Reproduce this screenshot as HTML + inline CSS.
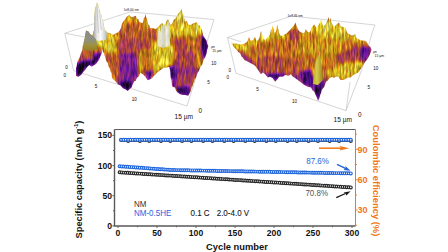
<!DOCTYPE html>
<html><head><meta charset="utf-8"><style>
html,body{margin:0;padding:0;background:#fff;}
body{width:448px;height:252px;overflow:hidden;}
svg{display:block;}
text{font-family:"Liberation Sans",sans-serif;}
</style></head><body>
<svg width="448" height="252" viewBox="0 0 448 252">
<rect width="448" height="252" fill="#fff"/>
<defs><clipPath id="cl"><path d="M76.0 76.0 L76.0 73.9 L76.0 70.2 L76.0 68.0 L76.6 66.5 L77.1 63.0 L77.7 61.3 L79.3 58.0 L80.1 56.2 L81.0 52.8 L81.8 51.3 L82.3 50.2 L82.8 45.5 L83.3 45.4 L83.8 41.4 L84.3 39.7 L84.7 38.3 L85.2 34.5 L85.6 33.3 L86.0 30.5 L88.5 31.5 L90.2 34.0 L92.0 35.5 L93.0 33.3 L94.0 30.0 L94.0 28.1 L94.1 23.8 L94.2 22.2 L94.2 17.1 L94.3 15.5 L94.5 14.2 L94.7 10.1 L94.9 8.3 L96.0 6.0 L97.0 2.4 L97.9 3.6 L98.8 7.5 L99.7 9.5 L100.6 13.6 L101.5 15.5 L102.1 19.0 L102.7 19.0 L103.3 22.6 L103.7 25.5 L104.1 26.6 L104.5 30.0 L106.0 31.0 L108.0 33.0 L110.0 33.0 L113.3 35.0 L116.0 33.0 L118.0 32.4 L120.0 30.0 L121.0 27.9 L122.0 23.8 L123.0 22.0 L124.8 19.8 L126.7 16.7 L129.2 15.0 L131.2 17.1 L133.3 16.7 L135.8 15.8 L136.9 18.9 L138.1 18.8 L139.2 21.7 L142.5 23.3 L143.2 21.6 L144.0 17.4 L144.8 17.2 L145.5 14.0 L146.2 17.8 L146.8 18.0 L147.5 21.7 L148.3 24.7 L149.2 25.1 L150.0 28.0 L153.0 28.3 L156.0 29.0 L159.0 26.0 L162.0 23.0 L164.0 25.0 L165.4 24.0 L166.8 20.4 L168.2 19.2 L169.4 22.6 L170.7 25.0 L172.1 23.7 L173.6 19.9 L175.0 19.0 L176.5 16.9 L178.0 14.0 L179.8 12.0 L181.5 9.2 L182.5 13.1 L183.5 15.0 L183.9 17.9 L184.4 18.6 L184.8 21.7 L186.7 20.7 L187.8 23.7 L189.0 25.0 L191.2 24.8 L193.3 23.2 L196.7 22.3 L198.3 25.3 L200.0 25.7 L200.8 28.5 L201.7 29.3 L202.5 32.3 L203.3 35.4 L204.2 37.3 L206.7 40.7 L207.5 44.2 L208.3 45.7 L207.7 48.7 L207.2 49.6 L206.6 53.7 L206.0 55.0 L205.0 58.0 L204.0 58.8 L203.0 62.0 L202.0 65.3 L201.0 65.7 L200.0 68.3 L198.9 71.0 L197.8 72.2 L196.7 75.0 L195.8 78.2 L195.0 78.2 L194.2 81.8 L193.3 83.3 L192.5 86.3 L191.7 87.3 L190.8 91.0 L190.0 92.5 L188.3 95.8 L185.0 95.0 L182.5 95.0 L180.0 94.2 L177.5 92.5 L176.2 91.0 L175.0 87.5 L172.5 86.7 L171.9 85.1 L171.4 79.8 L170.8 78.3 L170.5 76.6 L170.3 71.5 L170.0 70.0 L169.2 66.7 L166.7 67.5 L163.7 67.7 L160.3 70.2 L157.0 72.7 L155.3 74.8 L153.7 76.0 L152.0 78.3 L150.3 79.3 L147.8 80.2 L145.3 76.8 L142.8 74.3 L140.3 72.7 L138.7 76.5 L137.0 77.7 L135.6 81.0 L134.2 81.3 L132.8 84.3 L131.6 87.6 L130.3 88.5 L127.8 91.0 L125.3 89.3 L122.8 88.2 L120.3 85.2 L117.8 84.2 L115.3 81.0 L113.7 80.0 L112.0 77.7 L111.8 76.1 L111.7 73.3 L110.7 71.8 L109.7 68.1 L108.7 67.1 L107.7 62.8 L106.7 61.7 L106.0 60.3 L105.3 57.1 L104.6 55.8 L103.9 52.7 L103.2 52.2 L102.5 49.0 L101.8 53.3 L100.2 56.7 L99.0 59.9 L97.7 61.7 L96.0 64.0 L94.3 65.0 L91.8 66.7 L89.3 65.0 L86.8 67.5 L85.2 70.1 L83.5 71.7 L81.0 75.0 L78.5 76.8Z"/></clipPath><filter id="fl" filterUnits="userSpaceOnUse" x="60" y="0" width="156" height="100" color-interpolation-filters="sRGB"><feGaussianBlur in="SourceGraphic" stdDeviation="1.6" result="h"/><feTurbulence type="fractalNoise" baseFrequency="0.45 0.09" numOctaves="2" seed="4" result="n"/><feColorMatrix in="n" type="matrix" values="1 0 0 0 0 1 0 0 0 0 1 0 0 0 0 0 0 0 0 1" result="ng"/><feComposite in="h" in2="ng" operator="arithmetic" k1="0" k2="1" k3="0.42" k4="-0.21" result="hn"/><feComponentTransfer in="hn" result="c"><feFuncR type="table" tableValues="0.031 0.137 0.255 0.392 0.549 0.647 0.737 0.769 0.816 0.886 0.980"/><feFuncG type="table" tableValues="0.016 0.031 0.047 0.086 0.157 0.243 0.384 0.557 0.729 0.867 0.980"/><feFuncB type="table" tableValues="0.047 0.235 0.451 0.588 0.510 0.275 0.110 0.094 0.118 0.392 0.961"/></feComponentTransfer><feTurbulence type="fractalNoise" baseFrequency="0.6 0.12" numOctaves="2" seed="7" result="n2"/><feColorMatrix in="n2" type="matrix" values="1 0 0 0 0 1 0 0 0 0 1 0 0 0 0 0 0 0 0 1" result="ng2"/><feComposite in="c" in2="ng2" operator="arithmetic" k1="0.9" k2="0.5700000000000001" k3="0" k4="0"/></filter></defs><g stroke="#b8b8b8" stroke-width="0.6" fill="none"><path d="M64.8 33.3 L130 11.9 L214 19.5"/><path d="M64.8 33.3 L85 37"/><path d="M64.8 33.3 L73.6 70.6 L187 106 L214 19.5"/></g><g font-size="4.6" fill="#111" font-family="Liberation Sans, sans-serif"><text x="65.3" y="69.2">0</text><text x="63.6" y="77">0</text><text x="94.8" y="87.6">5</text><text x="131.8" y="101.2">10</text><text x="174.6" y="118.5" font-size="6.6">15 µm</text><text x="198.6" y="113.1" font-size="6.4">0</text><text x="207.2" y="83.6">5</text><text x="211.3" y="64.5">10</text><text x="212.2" y="51.5" font-size="3.4">15 µm</text><text x="211" y="47.8" font-size="2.8">µm</text><text x="123.8" y="11.4" font-size="3.2">1e8.00 nm</text></g><g clip-path="url(#cl)"><g filter="url(#fl)"><rect x="60" y="0" width="156" height="100" fill="#999999"/><path d="M92.0 38.0 L92.5 24.0 L93.5 14.0 L95.0 5.0 L96.9 0.5 L98.5 2.5 L100.5 9.0 L102.0 14.5 L104.2 22.0 L106.0 29.0 L108.0 33.0 L107.0 40.0 L98.0 41.0 L94.0 40.0Z" fill="#f7f7f7"/><path d="M83.0 42.0 L85.0 30.0 L87.0 29.0 L93.0 35.0 L97.0 40.0 L97.0 50.0 L83.0 50.0Z" fill="#adadad"/><path d="M116.0 33.0 L120.0 30.0 L123.0 22.0 L126.7 16.7 L129.2 15.0 L133.3 16.7 L135.8 15.8 L139.2 21.7 L142.5 23.3 L145.5 14.0 L147.5 21.7 L150.0 28.0 L153.0 28.3 L156.0 29.0 L150.0 29.0 L140.0 24.0 L128.0 21.0 L118.0 32.0Z" fill="#b2b2b2"/><path d="M118.0 34.0 L150.0 30.0 L156.0 33.0 L156.0 42.0 L118.0 42.0Z" fill="#8f8f8f"/><path d="M78.0 60.0 L80.0 49.0 L96.0 48.0 L101.0 51.0 L98.0 58.0 L86.0 61.0Z" fill="#8f8f8f"/><path d="M76.0 76.0 L77.0 63.0 L84.0 61.0 L96.0 59.0 L100.0 56.0 L94.0 65.0 L86.0 68.0 L81.0 75.0Z" fill="#212121"/><path d="M76.0 76.0 L76.0 65.0 L82.0 63.0 L88.0 64.0 L86.0 68.0 L83.5 71.7 L81.0 75.0Z" fill="#0a0a0a"/><path d="M94.0 53.0 L101.0 52.0 L102.0 56.0 L97.0 61.0 L93.0 58.0Z" fill="#333333"/><path d="M95.0 33.0 L107.0 31.0 L112.0 35.0 L113.0 44.0 L104.0 48.0 L97.0 45.0Z" fill="#e0e0e0"/><path d="M103.0 32.0 L112.0 33.0 L118.0 38.0 L117.0 50.0 L112.0 58.0 L104.0 48.0Z" fill="#cccccc"/><path d="M116.0 40.0 L150.0 40.0 L148.0 52.0 L118.0 52.0Z" fill="#808080"/><path d="M119.0 54.0 L136.0 52.0 L139.0 57.0 L138.0 75.0 L132.8 84.3 L130.3 88.5 L127.8 91.0 L125.3 89.3 L120.3 85.2 L119.0 70.0Z" fill="#575757"/><path d="M108.0 52.0 L116.0 52.0 L118.0 70.0 L119.0 84.0 L115.3 81.0 L112.0 77.7 L111.7 73.3 L108.0 62.0Z" fill="#949494"/><path d="M119.0 84.0 L124.0 81.0 L130.0 83.0 L134.0 81.0 L132.8 84.3 L130.3 88.5 L127.8 91.0 L125.3 89.3 L120.3 85.2Z" fill="#121212"/><path d="M139.0 50.0 L152.0 47.0 L153.0 74.0 L147.0 79.0 L142.0 74.0Z" fill="#9e9e9e"/><path d="M137.5 52.0 L141.0 52.0 L141.5 70.0 L138.5 72.0Z" fill="#cccccc"/><path d="M145.0 72.0 L153.0 70.0 L150.3 79.3 L147.8 80.2Z" fill="#383838"/><path d="M159.0 27.0 L162.0 23.0 L164.0 25.0 L168.2 19.2 L170.0 28.0 L170.0 46.0 L161.0 46.0 L158.0 36.0Z" fill="#ededed"/><path d="M153.0 38.0 L160.0 44.0 L172.0 46.0 L178.0 54.0 L176.0 66.0 L170.0 69.0 L166.7 67.5 L160.0 70.0 L154.0 71.0 L152.0 58.0Z" fill="#cccccc"/><path d="M166.0 70.0 L170.0 66.0 L174.0 70.0 L174.0 80.0 L170.8 78.3Z" fill="#383838"/><path d="M170.7 25.0 L175.0 19.0 L178.0 14.0 L181.5 9.2 L183.5 15.0 L184.8 21.7 L186.7 20.7 L189.0 25.0 L193.3 23.2 L196.7 22.3 L200.0 25.7 L202.5 32.3 L200.0 36.0 L185.0 36.0 L172.0 36.0Z" fill="#cccccc"/><path d="M179.5 16.0 L181.5 9.2 L183.5 15.0 L182.5 20.0 L180.0 20.0Z" fill="#f2f2f2"/><path d="M174.0 36.0 L200.0 36.0 L203.0 45.0 L190.0 52.0 L176.0 50.0Z" fill="#9e9e9e"/><path d="M176.0 56.0 L192.0 50.0 L202.0 58.0 L200.0 68.3 L196.7 75.0 L193.3 83.3 L190.0 92.5 L188.3 95.8 L185.0 95.0 L180.0 94.2 L177.5 92.5 L175.0 87.5 L172.5 86.7 L172.0 68.0Z" fill="#787878"/><path d="M196.0 50.0 L200.0 50.0 L200.0 68.0 L197.0 70.0Z" fill="#c7c7c7"/><path d="M173.0 40.0 L186.0 40.0 L186.0 55.0 L175.0 56.0Z" fill="#808080"/><path d="M171.0 66.0 L175.0 66.0 L176.0 86.0 L172.5 86.7Z" fill="#1f1f1f"/><path d="M201.0 35.0 L204.2 37.3 L206.7 40.7 L208.3 45.7 L206.0 55.0 L203.0 60.0 L201.0 50.0Z" fill="#1f1f1f"/><path d="M176.0 88.0 L188.0 86.0 L190.0 92.5 L188.3 95.8 L185.0 95.0 L180.0 94.2 L177.5 92.5Z" fill="#262626"/></g><defs><filter id="fls" x="-20%" y="-20%" width="140%" height="140%"><feGaussianBlur stdDeviation="0.55"/></filter></defs><g filter="url(#fls)"><defs><linearGradient id="wpk" x1="0" x2="1" y1="0" y2="0"><stop offset="0" stop-color="#9c9c9c"/><stop offset="0.3" stop-color="#e8e8e8"/><stop offset="0.55" stop-color="#fbfbfb"/><stop offset="0.8" stop-color="#d8d8d8"/><stop offset="1" stop-color="#b8b8b0"/></linearGradient><linearGradient id="gpk" x1="0" x2="0" y1="0" y2="1"><stop offset="0" stop-color="#8a8a8a"/><stop offset="0.5" stop-color="#909080"/><stop offset="0.75" stop-color="#a09038"/><stop offset="1" stop-color="#9a7a28"/></linearGradient></defs><path d="M93 37 L93.4 24 L94.2 14 L95.4 6 L96.9 1.6 L97.6 2.6 L98.2 6.5 L99.6 9 L101.2 14.5 L103.4 22 L105 29 L107 33 L106 40 L98 41 L95 39 Z" fill="url(#wpk)"/><path d="M96.9 3 L97.4 14 L98.4 33 M99.6 10 L101.2 30" stroke="#b8b8b8" stroke-width="0.7" fill="none"/><defs><linearGradient id="wpt" x1="0" x2="1" y1="0" y2="0"><stop offset="0" stop-color="#d8d8d0"/><stop offset="0.25" stop-color="#f4f4f0"/><stop offset="0.45" stop-color="#c0c4cc"/><stop offset="0.7" stop-color="#f0f0ee"/><stop offset="1" stop-color="#c8c8c0"/></linearGradient></defs><path d="M157 46 L157.5 34 L159 28 L160.5 33 L162 25 L163.5 30 L165 22 L166.5 27 L168 19 L169.5 25 L170.5 35 L169 46 L163 48 Z" fill="url(#wpt)" opacity="0.8"/><path d="M83.8 41 L85.2 31 L86 29.5 L89 32 L92.6 35.5 L95.4 38.5 L97.5 44 L96.5 50 L90 51 L83 50 Z" fill="url(#gpk)"/></g></g><defs><clipPath id="cr"><path d="M230.8 42.5 L233.4 43.8 L236.0 43.5 L240.0 44.5 L244.0 44.0 L247.0 42.0 L247.9 40.2 L248.9 36.9 L249.9 39.5 L251.0 41.0 L253.0 40.0 L255.0 37.0 L256.0 40.2 L257.0 41.0 L259.0 39.0 L259.7 36.7 L260.5 32.8 L261.2 31.0 L261.8 34.5 L262.4 35.2 L263.0 38.0 L265.0 40.0 L267.0 38.0 L269.0 36.0 L270.0 33.9 L271.0 30.0 L271.9 28.7 L272.7 25.4 L273.3 28.4 L273.9 29.7 L274.5 33.0 L275.5 32.0 L276.1 30.5 L276.8 26.2 L277.4 24.5 L277.9 28.4 L278.5 29.6 L279.0 33.0 L281.0 36.0 L284.0 35.0 L287.0 33.0 L290.0 30.0 L292.5 27.0 L294.0 25.4 L295.5 22.6 L296.5 25.8 L297.5 28.0 L298.8 30.7 L300.0 31.7 L303.3 33.3 L304.6 32.5 L305.8 29.2 L307.5 31.8 L309.2 32.5 L310.6 30.8 L312.0 27.0 L314.3 24.5 L316.5 28.0 L318.5 25.0 L319.8 23.1 L321.0 19.7 L321.7 22.9 L322.3 23.4 L323.0 26.0 L325.0 25.0 L326.0 23.7 L327.0 21.0 L327.8 20.0 L328.6 16.9 L329.5 21.0 L330.5 17.8 L331.2 22.0 L332.0 24.0 L334.2 26.7 L336.7 24.2 L339.0 22.6 L340.4 25.4 L341.7 26.7 L343.5 27.0 L345.7 28.3 L346.6 31.3 L347.5 33.3 L350.8 35.0 L353.0 35.5 L355.2 34.0 L355.9 36.8 L356.7 38.3 L360.0 40.0 L362.0 40.5 L364.8 40.7 L366.7 42.0 L368.6 45.4 L370.5 47.0 L371.5 50.0 L370.5 53.0 L369.2 56.0 L367.5 59.0 L365.0 62.0 L363.3 65.0 L361.6 68.1 L360.0 70.0 L358.4 72.3 L356.7 73.3 L353.3 75.0 L350.5 77.4 L347.7 77.5 L345.2 79.3 L342.7 80.0 L340.5 80.1 L338.2 76.6 L336.0 76.7 L333.8 77.7 L331.5 77.0 L329.3 78.3 L327.6 80.8 L326.0 81.7 L325.1 84.6 L324.3 86.7 L321.8 90.0 L321.0 93.3 L320.2 95.0 L319.1 99.1 L318.0 100.8 L316.8 97.5 L315.6 95.1 L314.3 91.7 L312.6 90.5 L311.0 87.5 L307.7 86.7 L304.3 85.0 L301.0 82.5 L297.7 80.0 L294.3 77.5 L292.6 76.4 L291.0 74.2 L288.5 75.8 L285.2 75.0 L282.7 76.7 L279.3 76.7 L276.8 80.0 L275.2 81.7 L272.7 78.3 L270.2 76.7 L267.7 77.5 L265.2 74.2 L262.7 72.5 L261.0 74.2 L259.3 71.7 L256.8 68.3 L255.2 65.8 L252.7 64.2 L249.3 62.5 L246.0 60.8 L244.3 60.1 L242.7 57.5 L241.4 56.6 L240.2 53.3 L238.5 52.2 L236.8 50.0 L235.0 48.3 L233.6 46.8 L232.2 44.0Z"/></clipPath><filter id="fr" filterUnits="userSpaceOnUse" x="226" y="14" width="150" height="90" color-interpolation-filters="sRGB"><feGaussianBlur in="SourceGraphic" stdDeviation="1.6" result="h"/><feTurbulence type="fractalNoise" baseFrequency="0.45 0.09" numOctaves="2" seed="9" result="n"/><feColorMatrix in="n" type="matrix" values="1 0 0 0 0 1 0 0 0 0 1 0 0 0 0 0 0 0 0 1" result="ng"/><feComposite in="h" in2="ng" operator="arithmetic" k1="0" k2="1" k3="0.42" k4="-0.21" result="hn"/><feComponentTransfer in="hn" result="c"><feFuncR type="table" tableValues="0.031 0.137 0.255 0.392 0.549 0.647 0.737 0.769 0.816 0.886 0.980"/><feFuncG type="table" tableValues="0.016 0.031 0.047 0.086 0.157 0.243 0.384 0.557 0.729 0.867 0.980"/><feFuncB type="table" tableValues="0.047 0.235 0.451 0.588 0.510 0.275 0.110 0.094 0.118 0.392 0.961"/></feComponentTransfer><feTurbulence type="fractalNoise" baseFrequency="0.6 0.12" numOctaves="2" seed="12" result="n2"/><feColorMatrix in="n2" type="matrix" values="1 0 0 0 0 1 0 0 0 0 1 0 0 0 0 0 0 0 0 1" result="ng2"/><feComposite in="c" in2="ng2" operator="arithmetic" k1="0.9" k2="0.5700000000000001" k3="0" k4="0"/></filter></defs><g stroke="#b8b8b8" stroke-width="0.6" fill="none"><path d="M227.5 37.5 L291.5 16 L375 25"/><path d="M227.5 37.5 L241 41.8"/><path d="M227.5 37.5 L236 73.3 L346 110.7 L361.7 70 L373 30 L375 25"/><path d="M346 110.7 L350 82"/></g><g font-size="4.6" fill="#111" font-family="Liberation Sans, sans-serif"><text x="228.6" y="72.4">0</text><text x="226.6" y="79.2">0</text><text x="256.2" y="90.8">5</text><text x="292" y="103.2">10</text><text x="333.6" y="121.8" font-size="6.6">15 µm</text><text x="358" y="116.8" font-size="6.4">0</text><text x="367.6" y="88.6">5</text><text x="373.3" y="69.6">10</text><text x="374.6" y="56.6" font-size="3.4">15 µm</text><text x="373" y="53" font-size="2.8">µm</text><text x="287.6" y="17.4" font-size="3.2">1e8.36 nm</text></g><g clip-path="url(#cr)"><g filter="url(#fr)"><rect x="226" y="14" width="150" height="90" fill="#9e9e9e"/><path d="M230.8 42.5 L236.7 43.3 L243.3 45.0 L246.7 44.2 L250.8 38.3 L253.3 37.5 L255.8 40.0 L258.3 38.3 L260.8 31.7 L262.5 30.0 L265.0 35.0 L268.5 34.0 L270.0 28.0 L271.7 22.5 L273.0 27.0 L274.2 33.3 L276.7 25.0 L278.3 21.7 L280.0 31.7 L285.0 35.0 L288.3 31.7 L292.5 26.7 L295.0 22.5 L297.5 28.3 L300.0 31.7 L303.3 33.3 L305.8 29.2 L309.2 32.5 L312.5 26.7 L315.0 24.2 L318.3 25.0 L320.0 20.0 L321.7 20.0 L325.0 25.0 L327.5 21.7 L329.2 17.5 L331.7 20.0 L334.2 26.7 L336.7 24.2 L339.2 22.5 L341.7 26.7 L345.0 28.3 L347.5 33.3 L350.8 35.0 L353.3 36.7 L355.0 33.3 L356.7 38.3 L360.0 40.0 L363.3 41.7 L355.0 43.0 L340.0 34.0 L320.0 30.0 L300.0 37.0 L280.0 38.0 L260.0 42.0 L248.0 49.0 L238.0 50.0Z" fill="#c2c2c2"/><path d="M231.0 42.5 L244.0 44.0 L247.0 50.0 L240.0 52.0 L235.0 48.0Z" fill="#d1d1d1"/><path d="M318.0 20.0 L345.0 25.0 L346.0 40.0 L326.0 44.0 L316.0 34.0Z" fill="#cccccc"/><path d="M254.0 60.0 L268.0 55.0 L285.0 58.0 L300.0 62.0 L300.0 82.5 L297.7 80.0 L294.3 77.5 L291.0 74.2 L288.5 75.8 L285.2 75.0 L282.7 76.7 L279.3 76.7 L276.8 80.0 L275.2 81.7 L272.7 78.3 L270.2 76.7 L267.7 77.5 L265.2 74.2 L262.7 72.5 L261.0 74.2 L259.3 71.7 L256.8 68.3 L255.2 65.8 L252.7 64.2Z" fill="#8a8a8a"/><path d="M258.0 72.0 L270.0 74.0 L285.0 74.0 L296.0 76.0 L300.0 82.5 L297.7 80.0 L294.3 77.5 L291.0 74.2 L288.5 75.8 L285.2 75.0 L282.7 76.7 L279.3 76.7 L276.8 80.0 L275.2 81.7 L272.7 78.3 L270.2 76.7 L267.7 77.5 L265.2 74.2 L262.7 72.5 L261.0 74.2Z" fill="#242424"/><path d="M287.0 30.0 L299.0 29.0 L301.0 39.0 L289.0 41.0Z" fill="#808080"/><path d="M300.0 78.0 L312.0 76.0 L326.0 79.0 L324.3 86.7 L321.8 90.0 L320.2 95.0 L318.0 100.8 L316.8 97.5 L314.3 91.7 L311.0 87.5 L307.7 86.7 L304.3 85.0 L301.0 82.5Z" fill="#4c4c4c"/><path d="M314.0 89.0 L318.0 87.0 L322.0 89.0 L320.2 95.0 L318.0 100.8 L316.8 97.5Z" fill="#0d0d0d"/><path d="M313.5 82.0 L316.0 62.0 L319.0 55.0 L321.0 62.0 L321.5 80.0Z" fill="#d6d6d6"/><path d="M300.0 72.0 L311.0 70.0 L313.0 84.0 L308.0 86.0 L301.0 83.0Z" fill="#333333"/><path d="M328.0 70.0 L345.0 63.0 L362.0 61.0 L363.3 65.0 L360.0 70.0 L356.7 73.3 L353.3 75.0 L347.7 77.5 L342.7 80.0 L336.0 76.7 L329.3 78.3Z" fill="#c7c7c7"/><path d="M334.0 55.0 L355.0 48.0 L368.0 46.0 L369.2 51.7 L367.5 56.7 L365.0 61.7 L350.0 62.0 L336.0 63.0Z" fill="#808080"/><path d="M360.0 47.0 L370.5 47.0 L371.5 50.0 L370.5 53.0 L369.2 56.0 L367.5 59.0 L365.0 62.0 L361.0 60.0Z" fill="#4c4c4c"/><path d="M240.0 53.0 L246.0 60.8 L249.3 62.5 L252.7 64.2 L255.2 65.8 L256.8 68.3 L259.3 71.7 L258.0 67.0 L250.0 60.0 L243.0 55.0Z" fill="#404040"/><path d="M236.8 50.0 L240.2 53.3 L242.7 57.5 L246.0 60.8 L249.3 62.5 L252.7 64.2 L256.0 63.0 L248.0 58.0 L240.0 51.0Z" fill="#666666"/><path d="M300.0 40.0 L340.0 38.0 L345.0 50.0 L330.0 58.0 L310.0 55.0 L300.0 50.0Z" fill="#b2b2b2"/></g><defs><filter id="frs" x="-20%" y="-20%" width="140%" height="140%"><feGaussianBlur stdDeviation="0.55"/></filter></defs><g filter="url(#frs)"><defs><linearGradient id="cone" x1="0" x2="1" y1="0" y2="0"><stop offset="0" stop-color="#b8a828"/><stop offset="0.4" stop-color="#d8cc50"/><stop offset="1" stop-color="#988018"/></linearGradient></defs><path d="M312.8 84 L315.5 64 L318.6 54.5 L321.5 63 L323 80 L318 85 Z" fill="url(#cone)"/></g></g>
<path d="M114.5 129.5 H355.5" stroke="#5a5a5a" stroke-width="1" fill="none"/><path d="M114.5 129.5 V226 H355.5" stroke="#5a5a5a" stroke-width="1.4" fill="none"/><path d="M355.5 129.5 V226" stroke="#f07818" stroke-width="1" fill="none"/><path d="M112.3 225.9 H114.5 M113.0 210.8 H114.5 M112.3 195.7 H114.5 M113.0 180.6 H114.5 M112.3 165.6 H114.5 M113.0 150.5 H114.5 M112.3 135.4 H114.5" stroke="#5a5a5a" stroke-width="0.9"/><path d="M118.0 226 V228.0 M137.5 226 V227.3 M157.0 226 V228.0 M176.5 226 V227.3 M196.0 226 V228.0 M215.5 226 V227.3 M235.0 226 V228.0 M254.5 226 V227.3 M274.0 226 V228.0 M293.5 226 V227.3 M313.0 226 V228.0 M332.5 226 V227.3 M352.0 226 V228.0" stroke="#5a5a5a" stroke-width="0.9"/><path d="M355.5 225.2 H357.0 M355.5 210.0 H357.7 M355.5 194.9 H357.0 M355.5 179.7 H357.7 M355.5 164.5 H357.0 M355.5 149.3 H357.7 M355.5 134.2 H357.0" stroke="#f07818" stroke-width="0.9"/><g fill="#fff" stroke="#333" stroke-width="1.15"><circle cx="121.1" cy="139.9" r="1.4"/><circle cx="123.5" cy="139.9" r="1.4"/><circle cx="125.8" cy="139.9" r="1.4"/><circle cx="128.2" cy="141.1" r="1.4"/><circle cx="130.5" cy="139.9" r="1.4"/><circle cx="132.8" cy="139.9" r="1.4"/><circle cx="135.2" cy="139.9" r="1.4"/><circle cx="137.5" cy="139.9" r="1.4"/><circle cx="139.9" cy="141.1" r="1.4"/><circle cx="142.2" cy="139.9" r="1.4"/><circle cx="144.6" cy="139.9" r="1.4"/><circle cx="146.9" cy="139.9" r="1.4"/><circle cx="149.2" cy="141.1" r="1.4"/><circle cx="151.6" cy="139.9" r="1.4"/><circle cx="153.9" cy="139.9" r="1.4"/><circle cx="156.3" cy="139.9" r="1.4"/><circle cx="158.6" cy="139.9" r="1.4"/><circle cx="161.0" cy="141.1" r="1.4"/><circle cx="163.3" cy="139.9" r="1.4"/><circle cx="165.7" cy="139.9" r="1.4"/><circle cx="168.0" cy="139.9" r="1.4"/><circle cx="170.3" cy="141.1" r="1.4"/><circle cx="172.7" cy="139.9" r="1.4"/><circle cx="175.0" cy="139.9" r="1.4"/><circle cx="177.4" cy="139.9" r="1.4"/><circle cx="179.7" cy="139.9" r="1.4"/><circle cx="182.1" cy="141.1" r="1.4"/><circle cx="184.4" cy="139.9" r="1.4"/><circle cx="186.8" cy="139.9" r="1.4"/><circle cx="189.1" cy="139.9" r="1.4"/><circle cx="191.4" cy="141.1" r="1.4"/><circle cx="193.8" cy="139.9" r="1.4"/><circle cx="196.1" cy="139.9" r="1.4"/><circle cx="198.5" cy="139.9" r="1.4"/><circle cx="200.8" cy="139.9" r="1.4"/><circle cx="203.2" cy="141.1" r="1.4"/><circle cx="205.5" cy="139.9" r="1.4"/><circle cx="207.8" cy="139.9" r="1.4"/><circle cx="210.2" cy="139.9" r="1.4"/><circle cx="212.5" cy="141.1" r="1.4"/><circle cx="214.9" cy="139.9" r="1.4"/><circle cx="217.2" cy="139.9" r="1.4"/><circle cx="219.6" cy="139.9" r="1.4"/><circle cx="221.9" cy="139.9" r="1.4"/><circle cx="224.3" cy="141.1" r="1.4"/><circle cx="226.6" cy="139.9" r="1.4"/><circle cx="228.9" cy="139.9" r="1.4"/><circle cx="231.3" cy="139.9" r="1.4"/><circle cx="233.6" cy="141.1" r="1.4"/><circle cx="236.0" cy="139.9" r="1.4"/><circle cx="238.3" cy="139.9" r="1.4"/><circle cx="240.7" cy="139.9" r="1.4"/><circle cx="243.0" cy="139.9" r="1.4"/><circle cx="245.4" cy="141.1" r="1.4"/><circle cx="247.7" cy="139.9" r="1.4"/><circle cx="250.0" cy="139.9" r="1.4"/><circle cx="252.4" cy="139.9" r="1.4"/><circle cx="254.7" cy="141.1" r="1.4"/><circle cx="257.1" cy="139.9" r="1.4"/><circle cx="259.4" cy="139.9" r="1.4"/><circle cx="261.8" cy="139.9" r="1.4"/><circle cx="264.1" cy="139.9" r="1.4"/><circle cx="266.4" cy="141.1" r="1.4"/><circle cx="268.8" cy="139.9" r="1.4"/><circle cx="271.1" cy="139.9" r="1.4"/><circle cx="273.5" cy="139.9" r="1.4"/><circle cx="275.8" cy="141.1" r="1.4"/><circle cx="278.2" cy="139.9" r="1.4"/><circle cx="280.5" cy="139.9" r="1.4"/><circle cx="282.9" cy="139.9" r="1.4"/><circle cx="285.2" cy="139.9" r="1.4"/><circle cx="287.5" cy="141.1" r="1.4"/><circle cx="289.9" cy="139.9" r="1.4"/><circle cx="292.2" cy="139.9" r="1.4"/><circle cx="294.6" cy="139.9" r="1.4"/><circle cx="296.9" cy="141.1" r="1.4"/><circle cx="299.3" cy="139.9" r="1.4"/><circle cx="301.6" cy="139.9" r="1.4"/><circle cx="304.0" cy="139.9" r="1.4"/><circle cx="306.3" cy="139.9" r="1.4"/><circle cx="308.6" cy="141.1" r="1.4"/><circle cx="311.0" cy="139.9" r="1.4"/><circle cx="313.3" cy="139.9" r="1.4"/><circle cx="315.7" cy="139.9" r="1.4"/><circle cx="318.0" cy="141.1" r="1.4"/><circle cx="320.4" cy="139.9" r="1.4"/><circle cx="322.7" cy="139.9" r="1.4"/><circle cx="325.0" cy="139.9" r="1.4"/><circle cx="327.4" cy="139.9" r="1.4"/><circle cx="329.7" cy="141.1" r="1.4"/><circle cx="332.1" cy="139.9" r="1.4"/><circle cx="334.4" cy="139.9" r="1.4"/><circle cx="336.8" cy="139.9" r="1.4"/><circle cx="339.1" cy="141.1" r="1.4"/><circle cx="341.5" cy="139.9" r="1.4"/><circle cx="343.8" cy="139.9" r="1.4"/><circle cx="346.1" cy="139.9" r="1.4"/><circle cx="348.5" cy="139.9" r="1.4"/><circle cx="350.8" cy="141.1" r="1.4"/></g><g fill="#fff" stroke="#1e64dc" stroke-width="1.15"><circle cx="121.1" cy="139.8" r="1.4"/><circle cx="123.5" cy="139.8" r="1.4"/><circle cx="125.8" cy="139.8" r="1.4"/><circle cx="128.2" cy="139.8" r="1.4"/><circle cx="130.5" cy="139.8" r="1.4"/><circle cx="132.8" cy="139.8" r="1.4"/><circle cx="135.2" cy="139.8" r="1.4"/><circle cx="137.5" cy="139.8" r="1.4"/><circle cx="139.9" cy="139.8" r="1.4"/><circle cx="142.2" cy="139.8" r="1.4"/><circle cx="144.6" cy="139.8" r="1.4"/><circle cx="146.9" cy="139.8" r="1.4"/><circle cx="149.2" cy="139.8" r="1.4"/><circle cx="151.6" cy="139.8" r="1.4"/><circle cx="153.9" cy="139.8" r="1.4"/><circle cx="156.3" cy="139.8" r="1.4"/><circle cx="158.6" cy="139.8" r="1.4"/><circle cx="161.0" cy="139.8" r="1.4"/><circle cx="163.3" cy="139.8" r="1.4"/><circle cx="165.7" cy="139.8" r="1.4"/><circle cx="168.0" cy="139.8" r="1.4"/><circle cx="170.3" cy="139.8" r="1.4"/><circle cx="172.7" cy="139.8" r="1.4"/><circle cx="175.0" cy="139.8" r="1.4"/><circle cx="177.4" cy="139.8" r="1.4"/><circle cx="179.7" cy="139.8" r="1.4"/><circle cx="182.1" cy="139.8" r="1.4"/><circle cx="184.4" cy="139.8" r="1.4"/><circle cx="186.8" cy="139.8" r="1.4"/><circle cx="189.1" cy="139.8" r="1.4"/><circle cx="191.4" cy="139.8" r="1.4"/><circle cx="193.8" cy="139.8" r="1.4"/><circle cx="196.1" cy="139.8" r="1.4"/><circle cx="198.5" cy="139.8" r="1.4"/><circle cx="200.8" cy="139.8" r="1.4"/><circle cx="203.2" cy="139.8" r="1.4"/><circle cx="205.5" cy="139.8" r="1.4"/><circle cx="207.8" cy="139.8" r="1.4"/><circle cx="210.2" cy="139.8" r="1.4"/><circle cx="212.5" cy="139.8" r="1.4"/><circle cx="214.9" cy="139.8" r="1.4"/><circle cx="217.2" cy="139.8" r="1.4"/><circle cx="219.6" cy="139.8" r="1.4"/><circle cx="221.9" cy="139.8" r="1.4"/><circle cx="224.3" cy="139.8" r="1.4"/><circle cx="226.6" cy="139.8" r="1.4"/><circle cx="228.9" cy="139.8" r="1.4"/><circle cx="231.3" cy="139.8" r="1.4"/><circle cx="233.6" cy="139.8" r="1.4"/><circle cx="236.0" cy="139.8" r="1.4"/><circle cx="238.3" cy="139.8" r="1.4"/><circle cx="240.7" cy="139.8" r="1.4"/><circle cx="243.0" cy="139.8" r="1.4"/><circle cx="245.4" cy="139.8" r="1.4"/><circle cx="247.7" cy="139.8" r="1.4"/><circle cx="250.0" cy="139.8" r="1.4"/><circle cx="252.4" cy="139.8" r="1.4"/><circle cx="254.7" cy="139.8" r="1.4"/><circle cx="257.1" cy="139.8" r="1.4"/><circle cx="259.4" cy="139.8" r="1.4"/><circle cx="261.8" cy="139.8" r="1.4"/><circle cx="264.1" cy="139.8" r="1.4"/><circle cx="266.4" cy="139.8" r="1.4"/><circle cx="268.8" cy="139.8" r="1.4"/><circle cx="271.1" cy="139.8" r="1.4"/><circle cx="273.5" cy="139.8" r="1.4"/><circle cx="275.8" cy="139.8" r="1.4"/><circle cx="278.2" cy="139.8" r="1.4"/><circle cx="280.5" cy="139.8" r="1.4"/><circle cx="282.9" cy="139.8" r="1.4"/><circle cx="285.2" cy="139.8" r="1.4"/><circle cx="287.5" cy="139.8" r="1.4"/><circle cx="289.9" cy="139.8" r="1.4"/><circle cx="292.2" cy="139.8" r="1.4"/><circle cx="294.6" cy="139.8" r="1.4"/><circle cx="296.9" cy="139.8" r="1.4"/><circle cx="299.3" cy="139.8" r="1.4"/><circle cx="301.6" cy="139.8" r="1.4"/><circle cx="304.0" cy="139.8" r="1.4"/><circle cx="306.3" cy="139.8" r="1.4"/><circle cx="308.6" cy="139.8" r="1.4"/><circle cx="311.0" cy="139.8" r="1.4"/><circle cx="313.3" cy="139.8" r="1.4"/><circle cx="315.7" cy="139.8" r="1.4"/><circle cx="318.0" cy="139.8" r="1.4"/><circle cx="320.4" cy="139.8" r="1.4"/><circle cx="322.7" cy="139.8" r="1.4"/><circle cx="325.0" cy="139.8" r="1.4"/><circle cx="327.4" cy="139.8" r="1.4"/><circle cx="329.7" cy="139.8" r="1.4"/><circle cx="332.1" cy="139.8" r="1.4"/><circle cx="334.4" cy="139.8" r="1.4"/><circle cx="336.8" cy="139.8" r="1.4"/><circle cx="339.1" cy="139.8" r="1.4"/><circle cx="341.5" cy="139.8" r="1.4"/><circle cx="343.8" cy="139.8" r="1.4"/><circle cx="346.1" cy="139.8" r="1.4"/><circle cx="348.5" cy="139.8" r="1.4"/><circle cx="350.8" cy="139.8" r="1.4"/></g><g fill="#fff" stroke="#262626" stroke-width="1.15"><circle cx="119.6" cy="172.3" r="1.4"/><circle cx="121.6" cy="172.4" r="1.4"/><circle cx="123.6" cy="172.6" r="1.4"/><circle cx="125.6" cy="172.7" r="1.4"/><circle cx="127.7" cy="172.8" r="1.4"/><circle cx="129.7" cy="173.0" r="1.4"/><circle cx="131.7" cy="173.1" r="1.4"/><circle cx="133.8" cy="173.2" r="1.4"/><circle cx="135.8" cy="173.4" r="1.4"/><circle cx="137.8" cy="173.5" r="1.4"/><circle cx="139.8" cy="173.6" r="1.4"/><circle cx="141.9" cy="173.8" r="1.4"/><circle cx="143.9" cy="173.9" r="1.4"/><circle cx="145.9" cy="174.0" r="1.4"/><circle cx="148.0" cy="174.2" r="1.4"/><circle cx="150.0" cy="174.3" r="1.4"/><circle cx="152.0" cy="174.4" r="1.4"/><circle cx="154.0" cy="174.6" r="1.4"/><circle cx="156.1" cy="174.7" r="1.4"/><circle cx="158.1" cy="174.8" r="1.4"/><circle cx="160.1" cy="175.0" r="1.4"/><circle cx="162.2" cy="175.1" r="1.4"/><circle cx="164.2" cy="175.2" r="1.4"/><circle cx="166.2" cy="175.4" r="1.4"/><circle cx="168.2" cy="175.5" r="1.4"/><circle cx="170.3" cy="175.6" r="1.4"/><circle cx="172.3" cy="175.8" r="1.4"/><circle cx="174.3" cy="175.9" r="1.4"/><circle cx="176.4" cy="176.0" r="1.4"/><circle cx="178.4" cy="176.1" r="1.4"/><circle cx="180.4" cy="176.3" r="1.4"/><circle cx="182.4" cy="176.4" r="1.4"/><circle cx="184.5" cy="176.5" r="1.4"/><circle cx="186.5" cy="176.7" r="1.4"/><circle cx="188.5" cy="176.8" r="1.4"/><circle cx="190.6" cy="176.9" r="1.4"/><circle cx="192.6" cy="177.1" r="1.4"/><circle cx="194.6" cy="177.2" r="1.4"/><circle cx="196.7" cy="177.3" r="1.4"/><circle cx="198.7" cy="177.5" r="1.4"/><circle cx="200.7" cy="177.6" r="1.4"/><circle cx="202.7" cy="177.7" r="1.4"/><circle cx="204.8" cy="177.9" r="1.4"/><circle cx="206.8" cy="178.0" r="1.4"/><circle cx="208.8" cy="178.1" r="1.4"/><circle cx="210.9" cy="178.3" r="1.4"/><circle cx="212.9" cy="178.4" r="1.4"/><circle cx="214.9" cy="178.5" r="1.4"/><circle cx="216.9" cy="178.7" r="1.4"/><circle cx="219.0" cy="178.8" r="1.4"/><circle cx="221.0" cy="178.9" r="1.4"/><circle cx="223.0" cy="179.1" r="1.4"/><circle cx="225.1" cy="179.2" r="1.4"/><circle cx="227.1" cy="179.3" r="1.4"/><circle cx="229.1" cy="179.5" r="1.4"/><circle cx="231.1" cy="179.6" r="1.4"/><circle cx="233.2" cy="179.7" r="1.4"/><circle cx="235.2" cy="179.9" r="1.4"/><circle cx="237.2" cy="180.0" r="1.4"/><circle cx="239.3" cy="180.1" r="1.4"/><circle cx="241.3" cy="180.3" r="1.4"/><circle cx="243.3" cy="180.4" r="1.4"/><circle cx="245.3" cy="180.5" r="1.4"/><circle cx="247.4" cy="180.7" r="1.4"/><circle cx="249.4" cy="180.8" r="1.4"/><circle cx="251.4" cy="180.9" r="1.4"/><circle cx="253.5" cy="181.1" r="1.4"/><circle cx="255.5" cy="181.2" r="1.4"/><circle cx="257.5" cy="181.3" r="1.4"/><circle cx="259.5" cy="181.5" r="1.4"/><circle cx="261.6" cy="181.6" r="1.4"/><circle cx="263.6" cy="181.7" r="1.4"/><circle cx="265.6" cy="181.9" r="1.4"/><circle cx="267.7" cy="182.0" r="1.4"/><circle cx="269.7" cy="182.1" r="1.4"/><circle cx="271.7" cy="182.3" r="1.4"/><circle cx="273.7" cy="182.4" r="1.4"/><circle cx="275.8" cy="182.5" r="1.4"/><circle cx="277.8" cy="182.6" r="1.4"/><circle cx="279.8" cy="182.8" r="1.4"/><circle cx="281.9" cy="182.9" r="1.4"/><circle cx="283.9" cy="183.0" r="1.4"/><circle cx="285.9" cy="183.2" r="1.4"/><circle cx="287.9" cy="183.3" r="1.4"/><circle cx="290.0" cy="183.4" r="1.4"/><circle cx="292.0" cy="183.6" r="1.4"/><circle cx="294.0" cy="183.7" r="1.4"/><circle cx="296.1" cy="183.8" r="1.4"/><circle cx="298.1" cy="184.0" r="1.4"/><circle cx="300.1" cy="184.1" r="1.4"/><circle cx="302.1" cy="184.2" r="1.4"/><circle cx="304.2" cy="184.4" r="1.4"/><circle cx="306.2" cy="184.5" r="1.4"/><circle cx="308.2" cy="184.6" r="1.4"/><circle cx="310.3" cy="184.8" r="1.4"/><circle cx="312.3" cy="184.9" r="1.4"/><circle cx="314.3" cy="185.0" r="1.4"/><circle cx="316.3" cy="185.2" r="1.4"/><circle cx="318.4" cy="185.3" r="1.4"/><circle cx="320.4" cy="185.4" r="1.4"/><circle cx="322.4" cy="185.6" r="1.4"/><circle cx="324.5" cy="185.7" r="1.4"/><circle cx="326.5" cy="185.8" r="1.4"/><circle cx="328.5" cy="186.0" r="1.4"/><circle cx="330.5" cy="186.1" r="1.4"/><circle cx="332.6" cy="186.2" r="1.4"/><circle cx="334.6" cy="186.4" r="1.4"/><circle cx="336.6" cy="186.5" r="1.4"/><circle cx="338.7" cy="186.6" r="1.4"/><circle cx="340.7" cy="186.8" r="1.4"/><circle cx="342.7" cy="186.9" r="1.4"/><circle cx="344.7" cy="187.0" r="1.4"/><circle cx="346.8" cy="187.2" r="1.4"/><circle cx="348.8" cy="187.3" r="1.4"/><circle cx="350.8" cy="187.4" r="1.4"/></g><g fill="#fff" stroke="#1e64dc" stroke-width="1.15"><circle cx="119.6" cy="166.2" r="1.4"/><circle cx="121.6" cy="166.4" r="1.4"/><circle cx="123.6" cy="166.5" r="1.4"/><circle cx="125.6" cy="166.7" r="1.4"/><circle cx="127.7" cy="166.8" r="1.4"/><circle cx="129.7" cy="166.9" r="1.4"/><circle cx="131.7" cy="167.1" r="1.4"/><circle cx="133.8" cy="167.2" r="1.4"/><circle cx="135.8" cy="167.4" r="1.4"/><circle cx="137.8" cy="167.5" r="1.4"/><circle cx="139.8" cy="167.7" r="1.4"/><circle cx="141.9" cy="167.8" r="1.4"/><circle cx="143.9" cy="168.0" r="1.4"/><circle cx="145.9" cy="168.1" r="1.4"/><circle cx="148.0" cy="168.3" r="1.4"/><circle cx="150.0" cy="168.4" r="1.4"/><circle cx="152.0" cy="168.6" r="1.4"/><circle cx="154.0" cy="168.7" r="1.4"/><circle cx="156.1" cy="168.9" r="1.4"/><circle cx="158.1" cy="169.0" r="1.4"/><circle cx="160.1" cy="169.2" r="1.4"/><circle cx="162.2" cy="169.3" r="1.4"/><circle cx="164.2" cy="169.4" r="1.4"/><circle cx="166.2" cy="169.6" r="1.4"/><circle cx="168.2" cy="169.7" r="1.4"/><circle cx="170.3" cy="169.9" r="1.4"/><circle cx="172.3" cy="170.0" r="1.4"/><circle cx="174.3" cy="170.0" r="1.4"/><circle cx="176.4" cy="170.1" r="1.4"/><circle cx="178.4" cy="170.1" r="1.4"/><circle cx="180.4" cy="170.2" r="1.4"/><circle cx="182.4" cy="170.2" r="1.4"/><circle cx="184.5" cy="170.2" r="1.4"/><circle cx="186.5" cy="170.3" r="1.4"/><circle cx="188.5" cy="170.3" r="1.4"/><circle cx="190.6" cy="170.4" r="1.4"/><circle cx="192.6" cy="170.4" r="1.4"/><circle cx="194.6" cy="170.4" r="1.4"/><circle cx="196.7" cy="170.5" r="1.4"/><circle cx="198.7" cy="170.5" r="1.4"/><circle cx="200.7" cy="170.5" r="1.4"/><circle cx="202.7" cy="170.6" r="1.4"/><circle cx="204.8" cy="170.6" r="1.4"/><circle cx="206.8" cy="170.7" r="1.4"/><circle cx="208.8" cy="170.7" r="1.4"/><circle cx="210.9" cy="170.7" r="1.4"/><circle cx="212.9" cy="170.8" r="1.4"/><circle cx="214.9" cy="170.8" r="1.4"/><circle cx="216.9" cy="170.9" r="1.4"/><circle cx="219.0" cy="170.9" r="1.4"/><circle cx="221.0" cy="170.9" r="1.4"/><circle cx="223.0" cy="171.0" r="1.4"/><circle cx="225.1" cy="171.0" r="1.4"/><circle cx="227.1" cy="171.0" r="1.4"/><circle cx="229.1" cy="171.1" r="1.4"/><circle cx="231.1" cy="171.1" r="1.4"/><circle cx="233.2" cy="171.2" r="1.4"/><circle cx="235.2" cy="171.2" r="1.4"/><circle cx="237.2" cy="171.2" r="1.4"/><circle cx="239.3" cy="171.3" r="1.4"/><circle cx="241.3" cy="171.3" r="1.4"/><circle cx="243.3" cy="171.3" r="1.4"/><circle cx="245.3" cy="171.4" r="1.4"/><circle cx="247.4" cy="171.4" r="1.4"/><circle cx="249.4" cy="171.5" r="1.4"/><circle cx="251.4" cy="171.5" r="1.4"/><circle cx="253.5" cy="171.5" r="1.4"/><circle cx="255.5" cy="171.6" r="1.4"/><circle cx="257.5" cy="171.6" r="1.4"/><circle cx="259.5" cy="171.7" r="1.4"/><circle cx="261.6" cy="171.7" r="1.4"/><circle cx="263.6" cy="171.7" r="1.4"/><circle cx="265.6" cy="171.8" r="1.4"/><circle cx="267.7" cy="171.8" r="1.4"/><circle cx="269.7" cy="171.8" r="1.4"/><circle cx="271.7" cy="171.9" r="1.4"/><circle cx="273.7" cy="171.9" r="1.4"/><circle cx="275.8" cy="172.0" r="1.4"/><circle cx="277.8" cy="172.0" r="1.4"/><circle cx="279.8" cy="172.0" r="1.4"/><circle cx="281.9" cy="172.1" r="1.4"/><circle cx="283.9" cy="172.1" r="1.4"/><circle cx="285.9" cy="172.2" r="1.4"/><circle cx="287.9" cy="172.2" r="1.4"/><circle cx="290.0" cy="172.2" r="1.4"/><circle cx="292.0" cy="172.3" r="1.4"/><circle cx="294.0" cy="172.3" r="1.4"/><circle cx="296.1" cy="172.3" r="1.4"/><circle cx="298.1" cy="172.4" r="1.4"/><circle cx="300.1" cy="172.4" r="1.4"/><circle cx="302.1" cy="172.5" r="1.4"/><circle cx="304.2" cy="172.5" r="1.4"/><circle cx="306.2" cy="172.5" r="1.4"/><circle cx="308.2" cy="172.6" r="1.4"/><circle cx="310.3" cy="172.6" r="1.4"/><circle cx="312.3" cy="172.7" r="1.4"/><circle cx="314.3" cy="172.7" r="1.4"/><circle cx="316.3" cy="172.7" r="1.4"/><circle cx="318.4" cy="172.8" r="1.4"/><circle cx="320.4" cy="172.8" r="1.4"/><circle cx="322.4" cy="172.8" r="1.4"/><circle cx="324.5" cy="172.9" r="1.4"/><circle cx="326.5" cy="172.9" r="1.4"/><circle cx="328.5" cy="173.0" r="1.4"/><circle cx="330.5" cy="173.0" r="1.4"/><circle cx="332.6" cy="173.0" r="1.4"/><circle cx="334.6" cy="173.1" r="1.4"/><circle cx="336.6" cy="173.1" r="1.4"/><circle cx="338.7" cy="173.1" r="1.4"/><circle cx="340.7" cy="173.2" r="1.4"/><circle cx="342.7" cy="173.2" r="1.4"/><circle cx="344.7" cy="173.3" r="1.4"/><circle cx="346.8" cy="173.3" r="1.4"/><circle cx="348.8" cy="173.3" r="1.4"/><circle cx="350.8" cy="173.4" r="1.4"/></g><path d="M319 148.2 H342" stroke="#f07818" stroke-width="1.5"/><path d="M349.2 148.2 L339.6 145.9 L341 148.2 L339.6 150.5Z" fill="#f07818"/><path d="M337 164.4 L346 168.6" stroke="#1e64dc" stroke-width="1.3"/><path d="M350.4 170.7 L343.6 169.9 L345.8 167.8 L345.2 165.8Z" fill="#1e64dc"/><path d="M336.3 197.7 L345.5 193.5" stroke="#1a1a1a" stroke-width="1.3"/><path d="M350.6 191.2 L346.4 195.6 L345.4 193.4 L343.6 192.4Z" fill="#1a1a1a"/>
<g font-family="Liberation Sans, sans-serif"><text x="112" y="229.0" font-size="8.6" font-weight="bold" fill="#111" text-anchor="end" >0</text><text x="112" y="198.825" font-size="8.6" font-weight="bold" fill="#111" text-anchor="end" >50</text><text x="112" y="168.65" font-size="8.6" font-weight="bold" fill="#111" text-anchor="end" >100</text><text x="112" y="138.475" font-size="8.6" font-weight="bold" fill="#111" text-anchor="end" >150</text><text x="118.0" y="235.8" font-size="8.6" font-weight="bold" fill="#111" text-anchor="middle" >0</text><text x="157.0" y="235.8" font-size="8.6" font-weight="bold" fill="#111" text-anchor="middle" >50</text><text x="196.0" y="235.8" font-size="8.6" font-weight="bold" fill="#111" text-anchor="middle" >100</text><text x="235.0" y="235.8" font-size="8.6" font-weight="bold" fill="#111" text-anchor="middle" >150</text><text x="274.0" y="235.8" font-size="8.6" font-weight="bold" fill="#111" text-anchor="middle" >200</text><text x="313.0" y="235.8" font-size="8.6" font-weight="bold" fill="#111" text-anchor="middle" >250</text><text x="352.0" y="235.8" font-size="8.6" font-weight="bold" fill="#111" text-anchor="middle" >300</text><text x="357.6" y="213.249" font-size="9" font-weight="bold" fill="#f07818" text-anchor="start" >30</text><text x="357.6" y="182.898" font-size="9" font-weight="bold" fill="#f07818" text-anchor="start" >60</text><text x="357.6" y="152.547" font-size="9" font-weight="bold" fill="#f07818" text-anchor="start" >90</text><text x="237" y="250.3" font-size="9.35" font-weight="bold" fill="#111" text-anchor="middle" >Cycle number</text><text transform="translate(134 206.9) scale(1 1.15)" font-size="8" font-weight="normal" fill="#333" text-anchor="start" >NM</text><text transform="translate(134 216.3) scale(1 1.15)" font-size="8" font-weight="normal" fill="#1e64dc" text-anchor="start" >NM-0.5HE</text><text transform="translate(190.5 216.2) scale(1 1.12)" font-size="8" font-weight="normal" fill="#111" text-anchor="start" stroke="#111" stroke-width="0.08">0.1 C</text><text transform="translate(216.7 216.2) scale(1 1.12)" font-size="8" font-weight="normal" fill="#111" text-anchor="start" stroke="#111" stroke-width="0.08">2.0-4.0 V</text><text transform="translate(306.2 163.9) scale(1 1.15)" font-size="8" font-weight="normal" fill="#1e64dc" text-anchor="start" >87.6%</text><text transform="translate(305.4 196.1) scale(1 1.15)" font-size="8" font-weight="normal" fill="#555" text-anchor="start" >70.8%</text><text transform="translate(81.8 238.5) rotate(-90)" font-size="9.3" font-weight="bold" fill="#111">Specific capacity (mAh g<tspan font-size="5.2" dy="-4.2">-1</tspan><tspan dy="4.2">)</tspan></text><text transform="translate(373.2 124.8) rotate(90)" font-size="9.4" font-weight="bold" fill="#f07818">Coulombic efficiency (%)</text></g>
</svg>
</body></html>
